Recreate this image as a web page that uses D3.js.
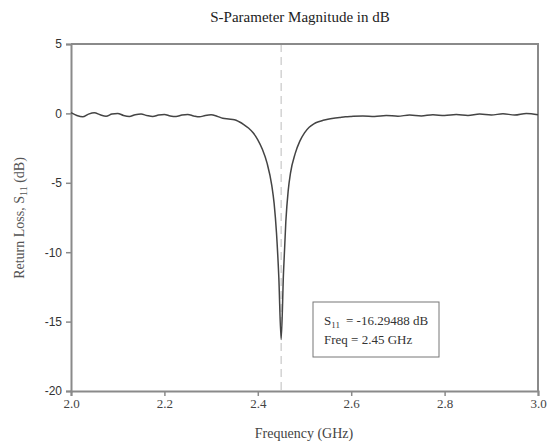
<!DOCTYPE html>
<html>
<head>
<meta charset="utf-8">
<script src="https://cdn.jsdelivr.net/npm/d3@7"></script>
<style>
  body { margin: 0; background: #fff; }
  svg { display: block; }
</style>
</head>
<body>
<div id="chart"></div>
<script>
// values
const freq = [2.000, 2.0125, 2.025, 2.0375, 2.050, 2.0625, 2.075, 2.0875, 2.100, 2.1125, 2.125, 2.1375,
  2.150, 2.1625, 2.175, 2.1875, 2.200, 2.2125, 2.225, 2.2375, 2.250, 2.2625, 2.275, 2.2875, 2.300,
  2.3125, 2.325, 2.3375, 2.350, 2.36, 2.37, 2.38, 2.39, 2.40, 2.41, 2.42, 2.43, 2.435, 2.44, 2.445,
  2.45, 2.455, 2.46, 2.465, 2.47, 2.48, 2.49, 2.50, 2.51, 2.52, 2.53, 2.54, 2.55, 2.5625, 2.575,
  2.5875, 2.60, 2.625, 2.65, 2.675, 2.70, 2.725, 2.75, 2.775, 2.80, 2.825, 2.85, 2.875, 2.90, 2.925,
  2.95, 2.975, 3.00];
const s11 = [0.05, -0.15, -0.25, -0.05, 0.05, -0.1, -0.2, -0.05, 0.0, -0.15, -0.22, -0.1,
  -0.05, -0.15, -0.22, -0.12, -0.08, -0.18, -0.22, -0.12, -0.08, -0.18, -0.25, -0.15, -0.1,
  -0.2, -0.35, -0.4, -0.45, -0.6, -0.8, -1.05, -1.4, -1.9, -2.6, -3.6, -5.2, -6.5, -8.6, -11.8,
  -16.29488, -11.5, -7.8, -5.6, -4.3, -2.9, -2.0, -1.4, -1.0, -0.75, -0.6, -0.5, -0.42, -0.35, -0.3,
  -0.25, -0.22, -0.18, -0.22, -0.15, -0.2, -0.12, -0.18, -0.1, -0.15, -0.08, -0.15, -0.05, -0.12, -0.02,
  -0.12, 0.0, -0.1];
const xTicks = [2.0, 2.2, 2.4, 2.6, 2.8, 3.0];
const yTicks = [5, 0, -5, -10, -15, -20];
const markerFreq = 2.45;

let width = 547, height = 448,
    margin = ({ top: 44, right: 9, bottom: 57, left: 71 });

const svg = d3.select("#chart").append("svg")
  .attr("width", width).attr("height", height);

let x = d3.scaleLinear().domain([2.0, 3.0]).range([margin.left, width - margin.right]);
let y = d3.scaleLinear().domain([-20, 5]).range([height - margin.bottom, margin.top]);

// dashed marker line at resonance
svg.append("line")
  .attr("x1", x(markerFreq)).attr("x2", x(markerFreq))
  .attr("y1", y(5)).attr("y2", y(-20))
  .attr("stroke", "#c8c8c8").attr("stroke-width", 1.2)
  .attr("stroke-dasharray", "8,5");

// frame (top and right edges)
svg.append("path")
  .attr("d", `M${x(2)},${y(5)}H${x(3)}V${y(-20)}`)
  .attr("fill", "none").attr("stroke", "#8a8a8a").attr("stroke-width", 2);

// axes
const xAxis = svg.append("g")
  .attr("transform", `translate(0,${y(-20)})`)
  .call(d3.axisBottom(x).tickValues(xTicks).tickFormat(d3.format(".1f")).tickSize(5).tickPadding(3));
const yAxis = svg.append("g")
  .attr("transform", `translate(${x(2)},0)`)
  .call(d3.axisLeft(y).tickValues(yTicks).tickSize(5).tickPadding(4));

[xAxis, yAxis].forEach(g => {
  g.select(".domain").attr("stroke", "#8a8a8a").attr("stroke-width", 2);
  g.selectAll(".tick line").attr("stroke", "#8a8a8a").attr("stroke-width", 1.5);
});
xAxis.selectAll("text").attr("font-family", "Liberation Serif, serif").attr("font-size", 13).attr("fill", "#444");
yAxis.selectAll("text").attr("font-family", "Liberation Sans, Arial, sans-serif").attr("font-size", 12).attr("fill", "#333")
  .text(d => d < 0 ? "-" + Math.abs(d) : d);

// S11 curve
const line = d3.line().x((d, i) => x(freq[i])).y(d => y(d)).curve(d3.curveMonotoneX);
svg.append("path")
  .datum(s11)
  .attr("d", line)
  .attr("fill", "none").attr("stroke", "#444").attr("stroke-width", 1.5);

// titles
svg.append("text")
  .attr("x", 300).attr("y", 22)
  .attr("text-anchor", "middle")
  .attr("font-family", "Liberation Serif, serif").attr("font-size", 15).attr("fill", "#222")
  .text("S-Parameter Magnitude in dB");

svg.append("text")
  .attr("x", 304).attr("y", 438)
  .attr("text-anchor", "middle")
  .attr("font-family", "Liberation Serif, serif").attr("font-size", 14).attr("fill", "#444")
  .text("Frequency (GHz)");

const yt = svg.append("text")
  .attr("transform", `translate(24,218) rotate(-90)`)
  .attr("text-anchor", "middle")
  .attr("font-family", "Liberation Serif, serif").attr("font-size", 14).attr("fill", "#555");
yt.append("tspan").text("Return Loss, S");
yt.append("tspan").attr("font-size", 10).attr("dy", 3).text("11");
yt.append("tspan").attr("dy", -3).text(" (dB)");

// annotation box
const box = svg.append("g");
box.append("rect")
  .attr("x", 313).attr("y", 302).attr("width", 126).attr("height", 55)
  .attr("fill", "#fff").attr("stroke", "#777").attr("stroke-width", 1);
const t1 = box.append("text")
  .attr("x", 324).attr("y", 325)
  .attr("font-family", "Liberation Serif, serif").attr("font-size", 13).attr("fill", "#333");
t1.append("tspan").text("S");
t1.append("tspan").attr("font-size", 9).attr("dy", 3).text("11");
t1.append("tspan").attr("x", 346).attr("dy", -3).text("= " + d3.min(s11) + " dB");
box.append("text")
  .attr("x", 324).attr("y", 344)
  .attr("font-family", "Liberation Serif, serif").attr("font-size", 13).attr("fill", "#333")
  .text("Freq = " + markerFreq + " GHz");
</script>
</body>
</html>
